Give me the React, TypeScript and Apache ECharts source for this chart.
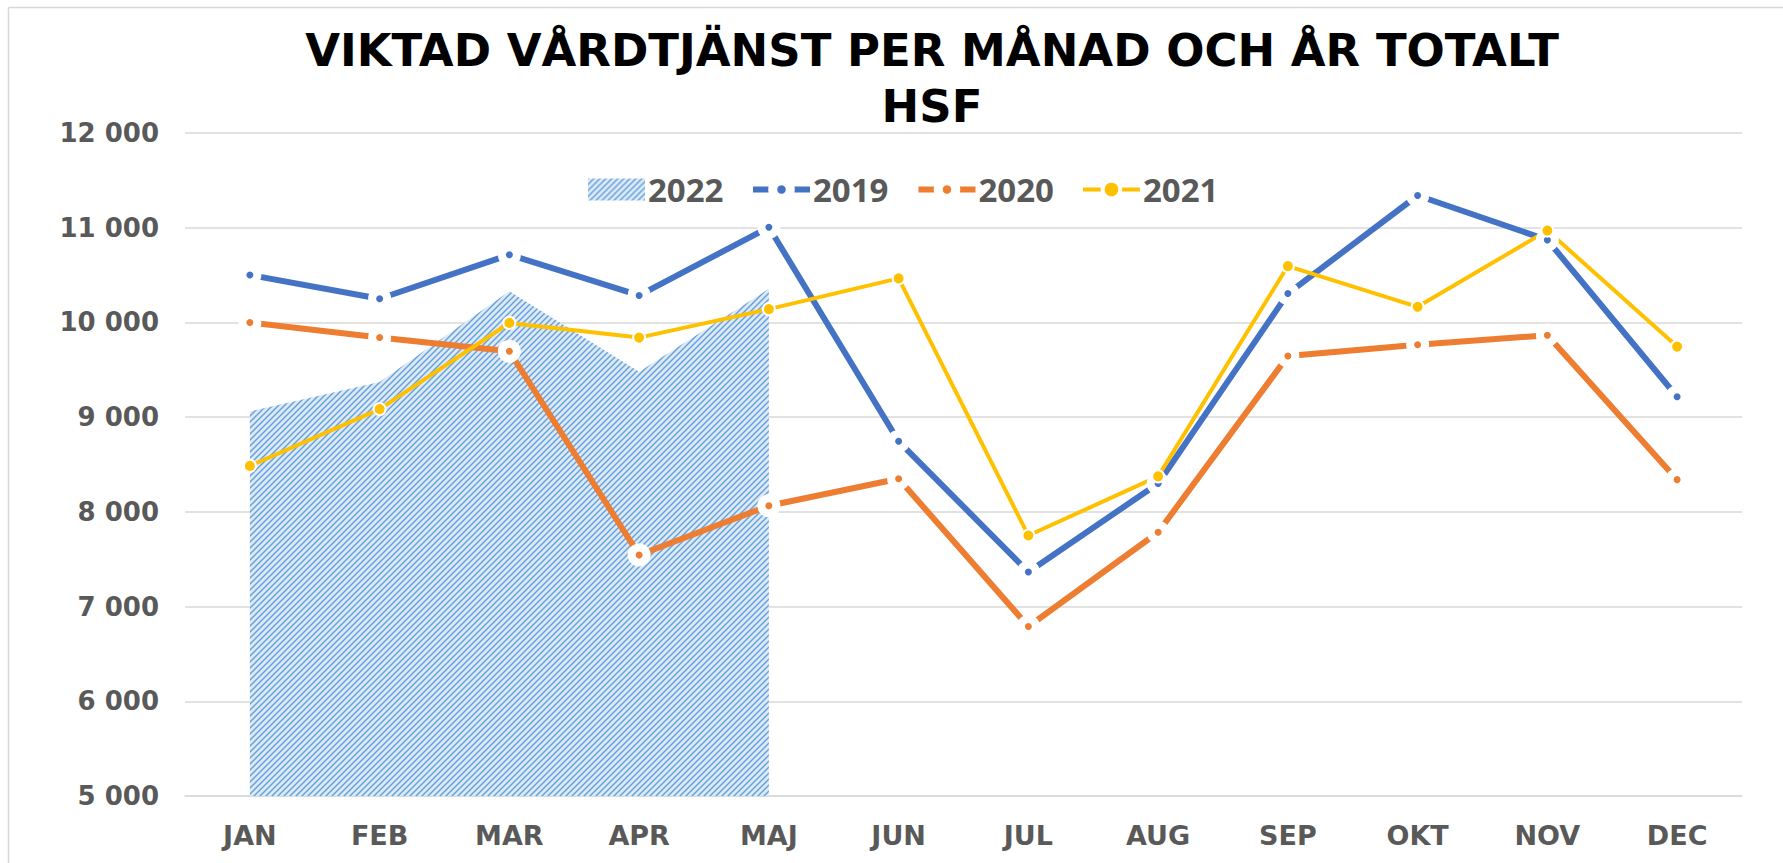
import React, { useEffect, useRef } from "react";
import * as echarts from "echarts";

const months = ["JAN", "FEB", "MAR", "APR", "MAJ", "JUN", "JUL", "AUG", "SEP", "OKT", "NOV", "DEC"];
const v2022 = [9060, 9370, 10330, 9480, 10355];
const v2019 = [10500, 10250, 10715, 10285, 11005, 8745, 7365, 8300, 10305, 11340, 10870, 9215];
const v2020 = [10000, 9840, 9695, 7545, 8065, 8350, 6790, 7785, 9645, 9765, 9865, 8340];
const v2021 = [8485, 9085, 9995, 9840, 10140, 10465, 7750, 8375, 10595, 10165, 10970, 9745];
const yTicks = { min: 5000, max: 12000, step: 1000 };

function makePattern() {
  const c = document.createElement("canvas");
  c.width = 6;
  c.height = 6;
  const ctx = c.getContext("2d")!;
  ctx.fillStyle = "#dce9f7";
  ctx.fillRect(0, 0, 6, 6);
  ctx.strokeStyle = "#68a2db";
  ctx.lineWidth = 1.5;
  ctx.beginPath();
  ctx.moveTo(-1, 7);
  ctx.lineTo(7, -1);
  ctx.moveTo(-4, 4);
  ctx.lineTo(4, -4);
  ctx.moveTo(2, 10);
  ctx.lineTo(10, 2);
  ctx.stroke();
  return c;
}

export default function App() {
  const ref = useRef<HTMLDivElement>(null);
  useEffect(() => {
    if (!ref.current) return;
    const chart = echarts.init(ref.current, null, { renderer: "svg" });
    const pattern = { image: makePattern(), repeat: "repeat" } as any;
    const fmt = (v: number) => String(v).replace(/\B(?=(\d{3})+(?!\d))/g, " ");
    const lineSeries = (name: string, data: number[], color: string, width: number, size: number, border: number) => ({
      name,
      type: "line",
      data,
      symbol: "circle",
      symbolSize: size,
      showSymbol: true,
      lineStyle: { color, width },
      itemStyle: { color, borderColor: "#ffffff", borderWidth: border },
      z: 3,
    });
    const legendText = { fontFamily: "Open Sans", fontWeight: "bold", fontSize: 33, color: "#595959", padding: [0, 0, 0, -2] };
    chart.setOption({
      animation: false,
      backgroundColor: "#ffffff",
      title: {
        text: "VIKTAD VÅRDTJÄNST PER MÅNAD OCH ÅR TOTALT\nHSF",
        left: 927,
        textAlign: "center",
        top: 17,
        textStyle: {
          fontFamily: "DejaVu Sans",
          fontWeight: "bold",
          fontSize: 45,
          lineHeight: 56,
          color: "#000000",
        },
      },
      legend: [
        {
          top: 168,
          left: 583,
          itemWidth: 57,
          itemHeight: 22,
          textStyle: legendText,
          data: [{ name: "2022", icon: "rect", itemStyle: { color: pattern, borderWidth: 0 } }],
        },
        {
          top: 168,
          left: 745,
          itemWidth: 57,
          itemHeight: 22,
          itemGap: 27,
          textStyle: legendText,
          data: [
            { name: "2019", lineStyle: { width: 6 }, itemStyle: { borderColor: "#fff", borderWidth: 9 } },
            { name: "2020", lineStyle: { width: 6 }, itemStyle: { borderColor: "#fff", borderWidth: 9 } },
            { name: "2021", lineStyle: { width: 4 }, itemStyle: { borderColor: "#fff", borderWidth: 4 } },
          ],
        },
      ],
      graphic: [
        { type: "line", shape: { x1: 8.5, y1: 7.5, x2: 1783, y2: 7.5 }, style: { stroke: "#d9d9d9", lineWidth: 1.5 } },
        { type: "line", shape: { x1: 8.5, y1: 7.5, x2: 8.5, y2: 863 }, style: { stroke: "#d9d9d9", lineWidth: 1.5 } },
      ],
      grid: { left: 185, right: 41, top: 133, bottom: 67, containLabel: false },
      xAxis: {
        type: "category",
        data: months,
        boundaryGap: true,
        axisLine: { lineStyle: { color: "#d9d9d9", width: 1.5 } },
        axisTick: { show: false },
        axisLabel: { fontFamily: "DejaVu Sans", fontWeight: "bold", fontSize: 27, color: "#595959", margin: 26 },
      },
      yAxis: {
        type: "value",
        min: yTicks.min,
        max: yTicks.max,
        interval: yTicks.step,
        axisLine: { show: false },
        axisTick: { show: false },
        splitLine: { lineStyle: { color: "#d9d9d9", width: 1.5 } },
        axisLabel: {
          fontFamily: "DejaVu Sans",
          fontWeight: "bold",
          fontSize: 26,
          color: "#595959",
          margin: 26,
          formatter: fmt,
        },
      },
      series: [
        {
          name: "2022",
          type: "line",
          data: v2022,
          symbol: "none",
          lineStyle: { width: 0, opacity: 0 },
          itemStyle: { color: pattern },
          areaStyle: { color: pattern, opacity: 1, origin: "start" },
          z: 1,
        },
        lineSeries("2019", v2019, "#4472c4", 6, 15, 8),
        lineSeries("2020", v2020, "#ed7d31", 6, 15, 8),
        lineSeries("2021", v2021, "#ffc000", 4, 12, 2),
      ],
    });
    return () => chart.dispose();
  }, []);
  return <div ref={ref} style={{ position: "absolute", left: 0, top: 0, width: 1783, height: 863 }} />;
}
